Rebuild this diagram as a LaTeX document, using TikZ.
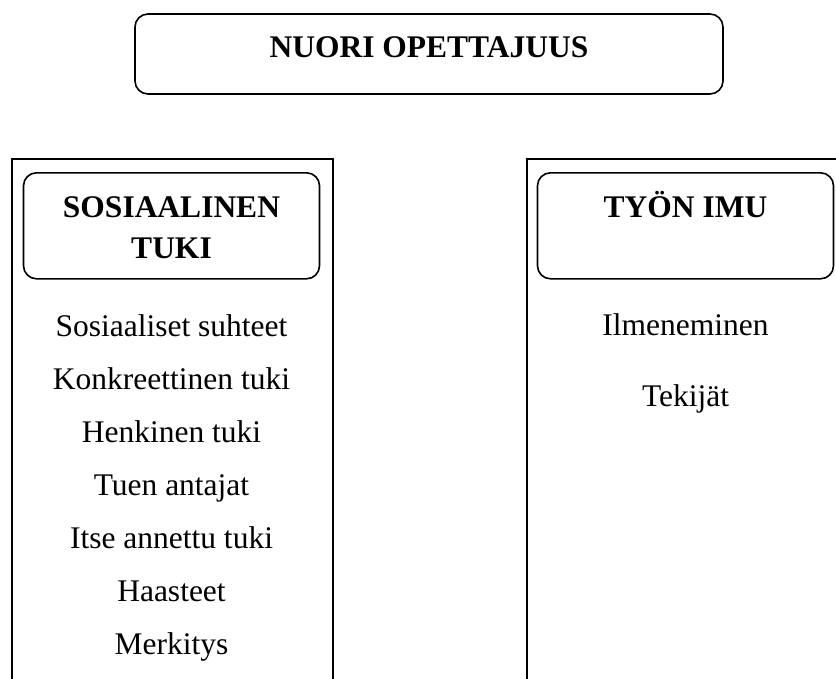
\documentclass[tikz,border=0pt]{standalone}
\usepackage{fontspec}
\setmainfont{Liberation Serif}
\usetikzlibrary{positioning}

\begin{document}
\begin{tikzpicture}[x=1pt, y=-1pt,
    title/.style={rectangle, draw=black, rounded corners=13pt, line width=1.6pt,
                  minimum width=588pt, inner sep=0pt, text height=43pt, text depth=37pt,
                  font=\fontsize{31.5pt}{41pt}\selectfont\bfseries},
    column/.style={rectangle, draw=black, line width=1.6pt, anchor=north,
                   minimum width=321pt, minimum height=560pt},
    headbox/.style={rectangle, draw=black, rounded corners=13pt, line width=1.6pt,
                    anchor=north, minimum width=296pt, inner sep=0pt,
                    text height=45pt, text depth=61pt, align=center,
                    font=\fontsize{31.5pt}{41pt}\selectfont\bfseries},
    item/.style={inner sep=0pt, text height=21pt, text depth=7pt,
                 font=\fontsize{31.5pt}{41pt}\selectfont},
]
    \clip (0,0) rectangle (836,678);

    \node[title] (nuori) at (429,54) {NUORI OPETTAJUUS};

    % Left: social support (two lines, so the baseline sits on the last one)
    \node[column] (leftcol) at (172.5,158) {};
    \node[headbox, text height=86pt, text depth=20pt] (sochead) at (171.5,172) {SOSIAALINEN\\TUKI};
    \node[item, below=36pt of sochead] (suhteet) {Sosiaaliset suhteet};
    \node[item, below=24.5pt of suhteet] (konkr) {Konkreettinen tuki};
    \node[item, below=24.5pt of konkr] (henk) {Henkinen tuki};
    \node[item, below=24.5pt of henk] (antajat) {Tuen antajat};
    \node[item, below=24.5pt of antajat] (itse) {Itse annettu tuki};
    \node[item, below=24.5pt of itse] (haasteet) {Haasteet};
    \node[item, below=24.5pt of haasteet] (merkitys) {Merkitys};

    % Right: work engagement
    \node[column] (rightcol) at (687.5,158) {};
    \node[headbox] (imuhead) at (685.5,172) {TYÖN IMU};
    \node[item, below=35pt of imuhead] (ilmen) {Ilmeneminen};
    \node[item, below=42pt of ilmen] (tekijat) {Tekijät};
\end{tikzpicture}
\end{document}
